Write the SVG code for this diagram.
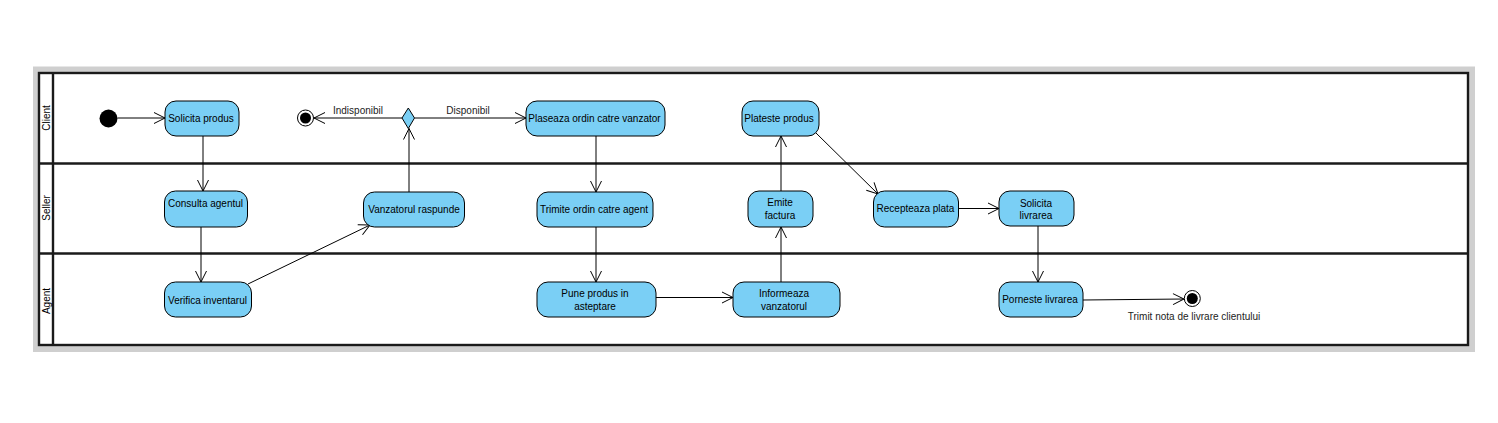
<svg xmlns="http://www.w3.org/2000/svg" width="1498" height="423" viewBox="0 0 1498 423">
<style>
.node{fill:#7ACFF5;stroke:#000;stroke-width:1}
.t{font-family:"Liberation Sans",Arial,sans-serif;font-size:10px;fill:#000;text-anchor:middle}
.lbl{font-family:"Liberation Sans",Arial,sans-serif;font-size:10px;fill:#222;text-anchor:middle}
.lane{stroke:#1a1a1a;stroke-width:2.4;fill:none}
.c{stroke:#000;stroke-width:1;fill:none;marker-end:url(#arr)}
</style>
<defs>
<marker id="arr" viewBox="-13 -7 14 14" refX="0" refY="0" markerWidth="14" markerHeight="14" orient="auto" markerUnits="userSpaceOnUse">
<path d="M-11,-5.5 L0,0 L-11,5.5" fill="none" stroke="#000" stroke-width="1"/>
</marker>
</defs>
<rect width="1498" height="423" fill="#fff"/>
<g id="frame">
<rect x="33" y="66.5" width="1442" height="285.5" fill="#cfcfcf"/>
<rect x="39" y="73" width="1429" height="272" fill="#fff"/>
<rect x="39" y="73" width="1429" height="272" class="lane"/>
<line x1="53" y1="73" x2="53" y2="345" class="lane"/>
<line x1="39" y1="163.5" x2="1468" y2="163.5" class="lane"/>
<line x1="39" y1="253.5" x2="1468" y2="253.5" class="lane"/>
<text class="t" transform="translate(50,118) rotate(-90)">Client</text>
<text class="t" transform="translate(50,208) rotate(-90)">Seller</text>
<text class="t" transform="translate(50,301) rotate(-90)">Agent</text>
</g>
<g id="connectors">
<line class="c" x1="117.5" y1="118" x2="165" y2="118"/>
<line class="c" x1="203" y1="136" x2="203" y2="191"/>
<line class="c" x1="201" y1="227" x2="201" y2="282"/>
<line class="c" x1="248" y1="284" x2="370" y2="225"/>
<line class="c" x1="409" y1="192" x2="409" y2="128.5"/>
<line class="c" x1="402" y1="118" x2="314" y2="118"/>
<text class="lbl" x="358" y="114">Indisponibil</text>
<line class="c" x1="414.5" y1="118" x2="526" y2="118"/>
<text class="lbl" x="468" y="114">Disponibil</text>
<line class="c" x1="596" y1="136" x2="596" y2="192"/>
<line class="c" x1="596" y1="227" x2="596" y2="282"/>
<line class="c" x1="656" y1="297.5" x2="733" y2="297.5"/>
<line class="c" x1="781" y1="282" x2="781" y2="227"/>
<line class="c" x1="781" y1="191" x2="781" y2="136"/>
<line class="c" x1="816" y1="133" x2="878" y2="194"/>
<line class="c" x1="958" y1="208.5" x2="999" y2="208.5"/>
<line class="c" x1="1038" y1="226" x2="1038" y2="282"/>
<line class="c" x1="1083" y1="300" x2="1184" y2="299"/>
<text class="lbl" x="1194" y="320">Trimit nota de livrare clientului</text>
</g>
<g id="start"><circle cx="108.5" cy="118.5" r="9" fill="#000"/></g>
<g id="end1"><circle cx="305.5" cy="118" r="8" fill="#fff" stroke="#000" stroke-width="1"/><circle cx="305.5" cy="118" r="5.5" fill="#000"/></g>
<g id="decision"><path d="M408.3,108 L414.5,118 L408.3,128.5 L402,118 Z" class="node"/></g>
<g id="solicita-produs"><rect class="node" x="165" y="101" width="74" height="35" rx="11"/><text class="t" x="201" y="121.5">Solicita produs</text></g>
<g id="consulta-agentul"><rect class="node" x="164.5" y="191" width="83" height="36" rx="11"/><text class="t" x="205.5" y="206.5">Consulta agentul</text></g>
<g id="verifica-inventarul"><rect class="node" x="164.5" y="282" width="87" height="35" rx="11"/><text class="t" x="207.5" y="303.5">Verifica inventarul</text></g>
<g id="vanzatorul-raspunde"><rect class="node" x="363.5" y="192" width="101" height="35" rx="11"/><text class="t" x="414" y="212.8">Vanzatorul raspunde</text></g>
<g id="plaseaza-ordin"><rect class="node" x="526" y="101" width="139" height="35" rx="11"/><text class="t" x="594.5" y="121.5">Plaseaza ordin catre vanzator</text></g>
<g id="trimite-ordin"><rect class="node" x="537" y="192" width="116" height="35" rx="11"/><text class="t" x="594" y="212.5">Trimite ordin catre agent</text></g>
<g id="pune-produs"><rect class="node" x="537" y="282" width="119" height="35" rx="11"/><text class="t" x="595" y="297.2">Pune produs in</text><text class="t" x="595" y="310.2">asteptare</text></g>
<g id="informeaza-vanzatorul"><rect class="node" x="733" y="282" width="107" height="35" rx="11"/><text class="t" x="784" y="297.2">Informeaza</text><text class="t" x="784" y="310.2">vanzatorul</text></g>
<g id="emite-factura"><rect class="node" x="748" y="191" width="65" height="36" rx="11"/><text class="t" x="780" y="206.2">Emite</text><text class="t" x="780" y="219.2">factura</text></g>
<g id="plateste-produs"><rect class="node" x="742" y="101" width="77" height="35" rx="11"/><text class="t" x="779" y="121.5">Plateste produs</text></g>
<g id="recepteaza-plata"><rect class="node" x="873.5" y="191" width="85" height="36" rx="11"/><text class="t" x="915.5" y="212.2">Recepteaza plata</text></g>
<g id="solicita-livrarea"><rect class="node" x="999" y="191" width="75" height="35" rx="11"/><text class="t" x="1036" y="206.8">Solicita</text><text class="t" x="1036" y="219.2">livrarea</text></g>
<g id="porneste-livrarea"><rect class="node" x="999" y="282" width="84" height="35" rx="11"/><text class="t" x="1040" y="302.8">Porneste livrarea</text></g>
<g id="end2"><circle cx="1192.3" cy="298.5" r="8" fill="#fff" stroke="#000" stroke-width="1"/><circle cx="1192.3" cy="298.5" r="5.5" fill="#000"/></g>
</svg>
